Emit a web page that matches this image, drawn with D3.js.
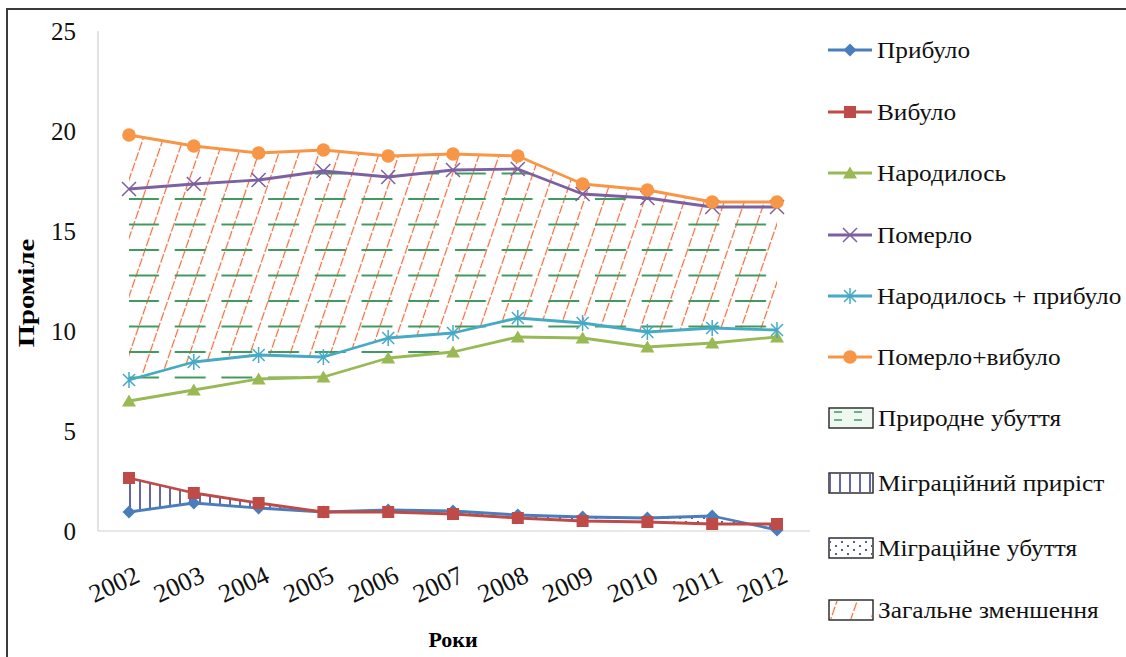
<!DOCTYPE html>
<html><head><meta charset="utf-8">
<script src="https://cdn.jsdelivr.net/npm/d3@7"></script>
<style>html,body{margin:0;padding:0;background:#fff;overflow:hidden}
svg text{font-family:"Liberation Serif","Times New Roman","Tinos","DejaVu Serif","Noto Serif",serif;}</style>
</head><body>
<svg id="chart" width="1126" height="657"></svg>
<script>
const years = [2002,2003,2004,2005,2006,2007,2008,2009,2010,2011,2012];
const prybulo   = [0.95,1.4,1.15,0.95,1.05,1.0,0.8,0.7,0.65,0.75,0.05];
const vybulo    = [2.65,1.9,1.4,0.95,0.95,0.85,0.65,0.5,0.45,0.35,0.35];
const narodylos = [6.5,7.05,7.6,7.7,8.65,8.95,9.7,9.65,9.2,9.4,9.7];
const pomerlo   = [17.1,17.35,17.55,18.0,17.7,18.05,18.1,16.85,16.65,16.2,16.2];
const narPryb   = [7.55,8.45,8.8,8.7,9.65,9.9,10.65,10.4,9.95,10.15,10.05];
const pomVyb    = [19.8,19.25,18.9,19.05,18.75,18.85,18.75,17.35,17.05,16.45,16.45];
const yTicks = [0,5,10,15,20,25];
const seriesNames = ["Прибуло","Вибуло","Народилось","Померло","Народилось + прибуло","Померло+вибуло"];
const areaNames = ["Природне убуття","Міграційний приріст","Міграційне убуття","Загальне зменшення"];
const xTitle = "Роки", yTitle = "Проміле";

const svg = d3.select("#chart");
const x = d3.scalePoint().domain(years).range([129, 777]);
const y = d3.scaleLinear().domain([0,25]).range([531, 31]);

// frame
svg.append("path").attr("d","M7,657 L7,9 L1126,9").attr("fill","none").attr("stroke","#3a3a3a").attr("stroke-width",2);

const defs = svg.append("defs");
// diagonal orange dashed hatch
const pd = defs.append("pattern").attr("id","pDiag").attr("patternUnits","userSpaceOnUse")
  .attr("width",19).attr("height",22).attr("patternTransform","rotate(19)");
pd.append("line").attr("x1",9.5).attr("y1",0).attr("x2",9.5).attr("y2",22)
  .attr("stroke","#ec6a3a").attr("stroke-width",1.2).attr("stroke-dasharray","9 2");
// green dashes
const pg = defs.append("pattern").attr("id","pDash").attr("patternUnits","userSpaceOnUse")
  .attr("width",46.7).attr("height",25.5).attr("x",128).attr("y",199-12.75);
pg.append("line").attr("x1",0).attr("y1",12.75).attr("x2",31).attr("y2",12.75)
  .attr("stroke","#3f9a5e").attr("stroke-width",2);
// legend green dashes (smaller)
const pgl = defs.append("pattern").attr("id","pDashL").attr("patternUnits","userSpaceOnUse")
  .attr("width",20).attr("height",8).attr("x",834).attr("y",414);
pgl.append("rect").attr("width",20).attr("height",8).attr("fill","#eef8f1");
pgl.append("line").attr("x1",0).attr("y1",4).attr("x2",8).attr("y2",4)
  .attr("stroke","#3f9a5e").attr("stroke-width",1.5);
// vertical navy lines
const pv = defs.append("pattern").attr("id","pVert").attr("patternUnits","userSpaceOnUse")
  .attr("width",10).attr("height",10).attr("x",125);
pv.append("line").attr("x1",5).attr("y1",0).attr("x2",5).attr("y2",10)
  .attr("stroke","#2e3192").attr("stroke-width",1.5);
// dots
const pdots = defs.append("pattern").attr("id","pDots").attr("patternUnits","userSpaceOnUse")
  .attr("width",12).attr("height",8);
pdots.append("circle").attr("cx",2).attr("cy",2).attr("r",1.1).attr("fill","#2e3192");
pdots.append("circle").attr("cx",8).attr("cy",6).attr("r",1.1).attr("fill","#2e3192");

// clip paths for migration area
const idx = d3.range(years.length);
defs.append("clipPath").attr("id","cAbove").append("path")
  .attr("d", d3.area().x(i=>x(years[i])).y0(0).y1(i=>y(prybulo[i]))(idx));
defs.append("clipPath").attr("id","cBelow").append("path")
  .attr("d", d3.area().x(i=>x(years[i])).y0(657).y1(i=>y(prybulo[i]))(idx));

// axes lines
svg.append("line").attr("x1",98).attr("x2",98).attr("y1",31).attr("y2",531).attr("stroke","#d0d0d0").attr("stroke-width",1.2);
svg.append("line").attr("x1",98).attr("x2",810).attr("y1",531).attr("y2",531).attr("stroke","#d0d0d0").attr("stroke-width",1.2);

// y ticks
const yAxis = svg.append("g").attr("transform","translate(76,0)")
  .call(d3.axisLeft(y).tickValues(yTicks).tickSize(0).tickPadding(0).tickFormat(d3.format("d")));
yAxis.attr("font-family",null);
yAxis.select(".domain").remove();
yAxis.selectAll("text").attr("font-size",25).attr("fill","#111");

// x ticks
const xAxis = svg.append("g").attr("transform","translate(2,560)")
  .call(d3.axisBottom(x).tickSize(0).tickPadding(0).tickFormat(d=>String(d)));
xAxis.attr("font-family",null);
xAxis.select(".domain").remove();
xAxis.selectAll("text").attr("font-size",26).attr("fill","#111")
  .attr("text-anchor","end").attr("dy","0.9em").attr("dx","0")
  .attr("transform","rotate(-25)");

// titles
svg.append("text").attr("x",453).attr("y",647).attr("text-anchor","middle")
  .attr("font-weight","bold").attr("font-size",22).text(xTitle);
svg.append("text").attr("transform","translate(34,293) rotate(-90) scale(1.25,1)").attr("text-anchor","middle")
  .attr("font-weight","bold").attr("font-size",23).text(yTitle);

// fill areas
const band = (lo, hi) => d3.area().x(i=>x(years[i])).y0(i=>y(lo[i])).y1(i=>y(hi[i]))(idx);
svg.append("path").attr("d", band(narPryb, pomVyb)).attr("fill","url(#pDiag)");
svg.append("path").attr("d", band(narodylos, pomerlo)).attr("fill","url(#pDash)");
svg.append("path").attr("d", band(prybulo, vybulo)).attr("fill","url(#pVert)").attr("clip-path","url(#cAbove)");
svg.append("path").attr("d", band(prybulo, vybulo)).attr("fill","url(#pDots)").attr("clip-path","url(#cBelow)");

// series
const series = [
  {name:seriesNames[0], data:prybulo,   color:"#4a7ebb", marker:"diamond"},
  {name:seriesNames[1], data:vybulo,    color:"#be4b48", marker:"square"},
  {name:seriesNames[2], data:narodylos, color:"#98b954", marker:"triangle"},
  {name:seriesNames[3], data:pomerlo,   color:"#7d60a0", marker:"x"},
  {name:seriesNames[4], data:narPryb,   color:"#46aac5", marker:"star"},
  {name:seriesNames[5], data:pomVyb,    color:"#f79646", marker:"circle"}
];
function drawMarker(g, type, color){
  if(type==="diamond") g.append("path").attr("d","M0,-6.5 L6.5,0 L0,6.5 L-6.5,0Z").attr("fill",color);
  else if(type==="square") g.append("rect").attr("x",-6).attr("y",-6).attr("width",12).attr("height",12).attr("fill",color);
  else if(type==="triangle") g.append("path").attr("d","M0,-6.5 L7,5.5 L-7,5.5Z").attr("fill",color);
  else if(type==="circle") g.append("circle").attr("r",6.8).attr("fill",color);
  else if(type==="x") g.append("path").attr("d","M-7,-7 L7,7 M-7,7 L7,-7").attr("stroke",color).attr("stroke-width",1.5);
  else if(type==="star") g.append("path").attr("d","M-6,-6 L6,6 M-6,6 L6,-6 M0,-8 L0,8").attr("stroke",color).attr("stroke-width",1.5);
}
const line = d3.line().x((d,i)=>x(years[i])).y(d=>y(d));
series.forEach(s=>{
  svg.append("path").attr("d", line(s.data)).attr("fill","none").attr("stroke",s.color).attr("stroke-width",2.8).attr("stroke-linejoin","round");
  s.data.forEach((v,i)=>{
    drawMarker(svg.append("g").attr("transform",`translate(${x(years[i])},${y(v)})`), s.marker, s.color);
  });
});

// legend
const legY = [50,112,173,235,296,357];
series.forEach((s,k)=>{
  const g = svg.append("g").attr("transform",`translate(0,${legY[k]})`);
  g.append("line").attr("x1",828).attr("x2",872).attr("y1",0).attr("y2",0).attr("stroke",s.color).attr("stroke-width",2.8);
  drawMarker(g.append("g").attr("transform","translate(850,0)"), s.marker, s.color);
  g.append("text").attr("transform","translate(877,0) scale(1.1,1)").attr("dy","0.35em").attr("font-size",23).attr("fill","#111").text(s.name);
});
const areaY = [418,483,548,610];
const areaFills = ["url(#pDashL)","url(#pVert)","url(#pDots)","url(#pDiag)"];
areaNames.forEach((n,k)=>{
  const g = svg.append("g").attr("transform",`translate(0,${areaY[k]})`);
  g.append("rect").attr("x",829).attr("y",-10).attr("width",44).attr("height",20).attr("fill","#fff").attr("stroke","#222").attr("stroke-width",1.4);
  g.append("rect").attr("x",830).attr("y",-9).attr("width",42).attr("height",18).attr("fill",areaFills[k]);
  g.append("text").attr("transform","translate(878,0) scale(1.1,1)").attr("dy","0.35em").attr("font-size",23).attr("fill","#111").text(n);
});
</script>
</body></html>
